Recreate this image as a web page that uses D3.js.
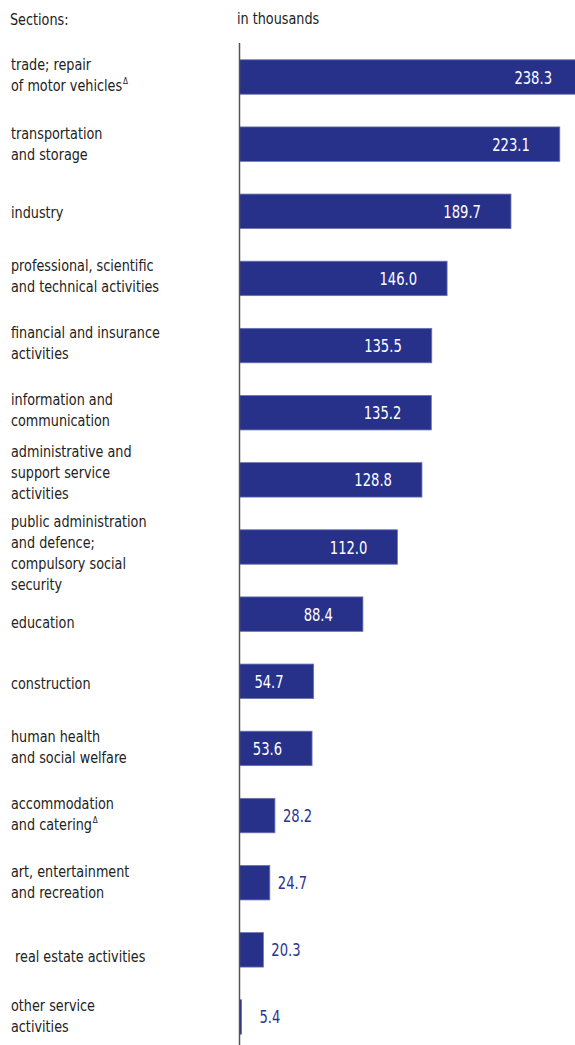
<!DOCTYPE html>
<html><head><meta charset="utf-8">
<script src="https://cdn.jsdelivr.net/npm/d3@7"></script>
<style>
html,body{margin:0;padding:0;background:#fff;}
svg{display:block;}
text{font-family:"DejaVu Sans Condensed","Liberation Sans Narrow","Roboto Condensed",sans-serif;}
</style></head><body>
<svg id="chart" width="575" height="1045"></svg>
<script>
// Data
const categories = [
  ["trade; repair", "of motor vehicles^"],
  ["transportation", "and storage"],
  ["industry"],
  ["professional, scientific", "and technical activities"],
  ["financial and insurance", "activities"],
  ["information and", "communication"],
  ["administrative and", "support service", "activities"],
  ["public administration", "and defence;", "compulsory social", "security"],
  ["education"],
  ["construction"],
  ["human health", "and social welfare"],
  ["accommodation", "and catering^"],
  ["art, entertainment", "and recreation"],
  [" real estate activities"],
  ["other service", "activities"]
];
const values = [238.3, 223.1, 189.7, 146.0, 135.5, 135.2, 128.8, 112.0, 88.4, 54.7, 53.6, 28.2, 24.7, 20.3, 5.4];
const valueLabels = ["238.3","223.1","189.7","146.0","135.5","135.2","128.8","112.0","88.4","54.7","53.6","28.2","24.7","20.3","5.4"];
const headerLeft = "Sections:";
const headerUnit = "in thousands";

// layout (vertical shift of each label block's middle baseline relative to its bar centre)
const labelShift = [4, 5, 7, 3.3, 3.2, 2.8, -1.5, 12, 14, 8, 4, 3.7, 5.3, 12, 4.7];

const W = 575, H = 1045;
const svg = d3.select("#chart");
const axisX = 239.5;
const fill = "#27318a", stroke = "#6a72b4";
const SX = 0.89;

const x = d3.scaleLinear().domain([0, 238.3]).range([233.7, 582]);
const y = d3.scaleBand().domain(d3.range(values.length)).range([43, 1051]).paddingInner(0.487).paddingOuter(0.25);

// headers
svg.append("text").attr("transform", `translate(10,25) scale(${SX},1)`).attr("font-size", 16).attr("fill", "#222").text(headerLeft);
svg.append("text").attr("transform", `translate(237,24) scale(${SX},1)`).attr("font-size", 16).attr("fill", "#222").text(headerUnit);

// bars
svg.append("g").selectAll("rect").data(values).join("rect")
  .attr("x", axisX)
  .attr("y", (d,i) => y(i))
  .attr("width", d => Math.max(0, x(d) - axisX))
  .attr("height", y.bandwidth())
  .attr("fill", fill)
  .attr("stroke", stroke)
  .attr("stroke-width", 0.8);

// axis line
svg.append("line").attr("x1", axisX).attr("x2", axisX).attr("y1", 43).attr("y2", H)
  .attr("stroke", "#555").attr("stroke-width", 1.5);

// value labels
const threshold = 40;
svg.selectAll("text.val").data(values).join("text")
  .attr("class", "val")
  .attr("transform", (d,i) => {
    const tx = d > threshold ? x(d) - 30 : Math.max(x(d) + 8, axisX + 20);
    const ty = y(i) + y.bandwidth()/2 + 6.5;
    return `translate(${tx},${ty}) scale(0.86,1)`;
  })
  .attr("text-anchor", d => d > threshold ? "end" : "start")
  .attr("font-size", 17)
  .attr("fill", d => d > threshold ? "#fff" : "#2b3590")
  .text((d,i) => valueLabels[i]);

// category labels
const lh = 21;
categories.forEach((lines, i) => {
  const mid = y(i) + y.bandwidth()/2 + labelShift[i];
  const t = svg.append("text").attr("font-size", 16).attr("fill", "#222")
    .attr("transform", `translate(11,0) scale(${SX},1)`);
  lines.forEach((ln, j) => {
    const base = mid - (lines.length - 1) * lh / 2 + j * lh;
    const sup = ln.endsWith("^");
    const txt = sup ? ln.slice(0, -1) : ln;
    t.append("tspan").attr("x", 0).attr("y", base).style("white-space","pre").text(txt);
    if (sup) t.append("tspan").attr("font-size", 9).attr("dy", -7).attr("dx", 1).text("\u0394");
  });
});
</script>
</body></html>
